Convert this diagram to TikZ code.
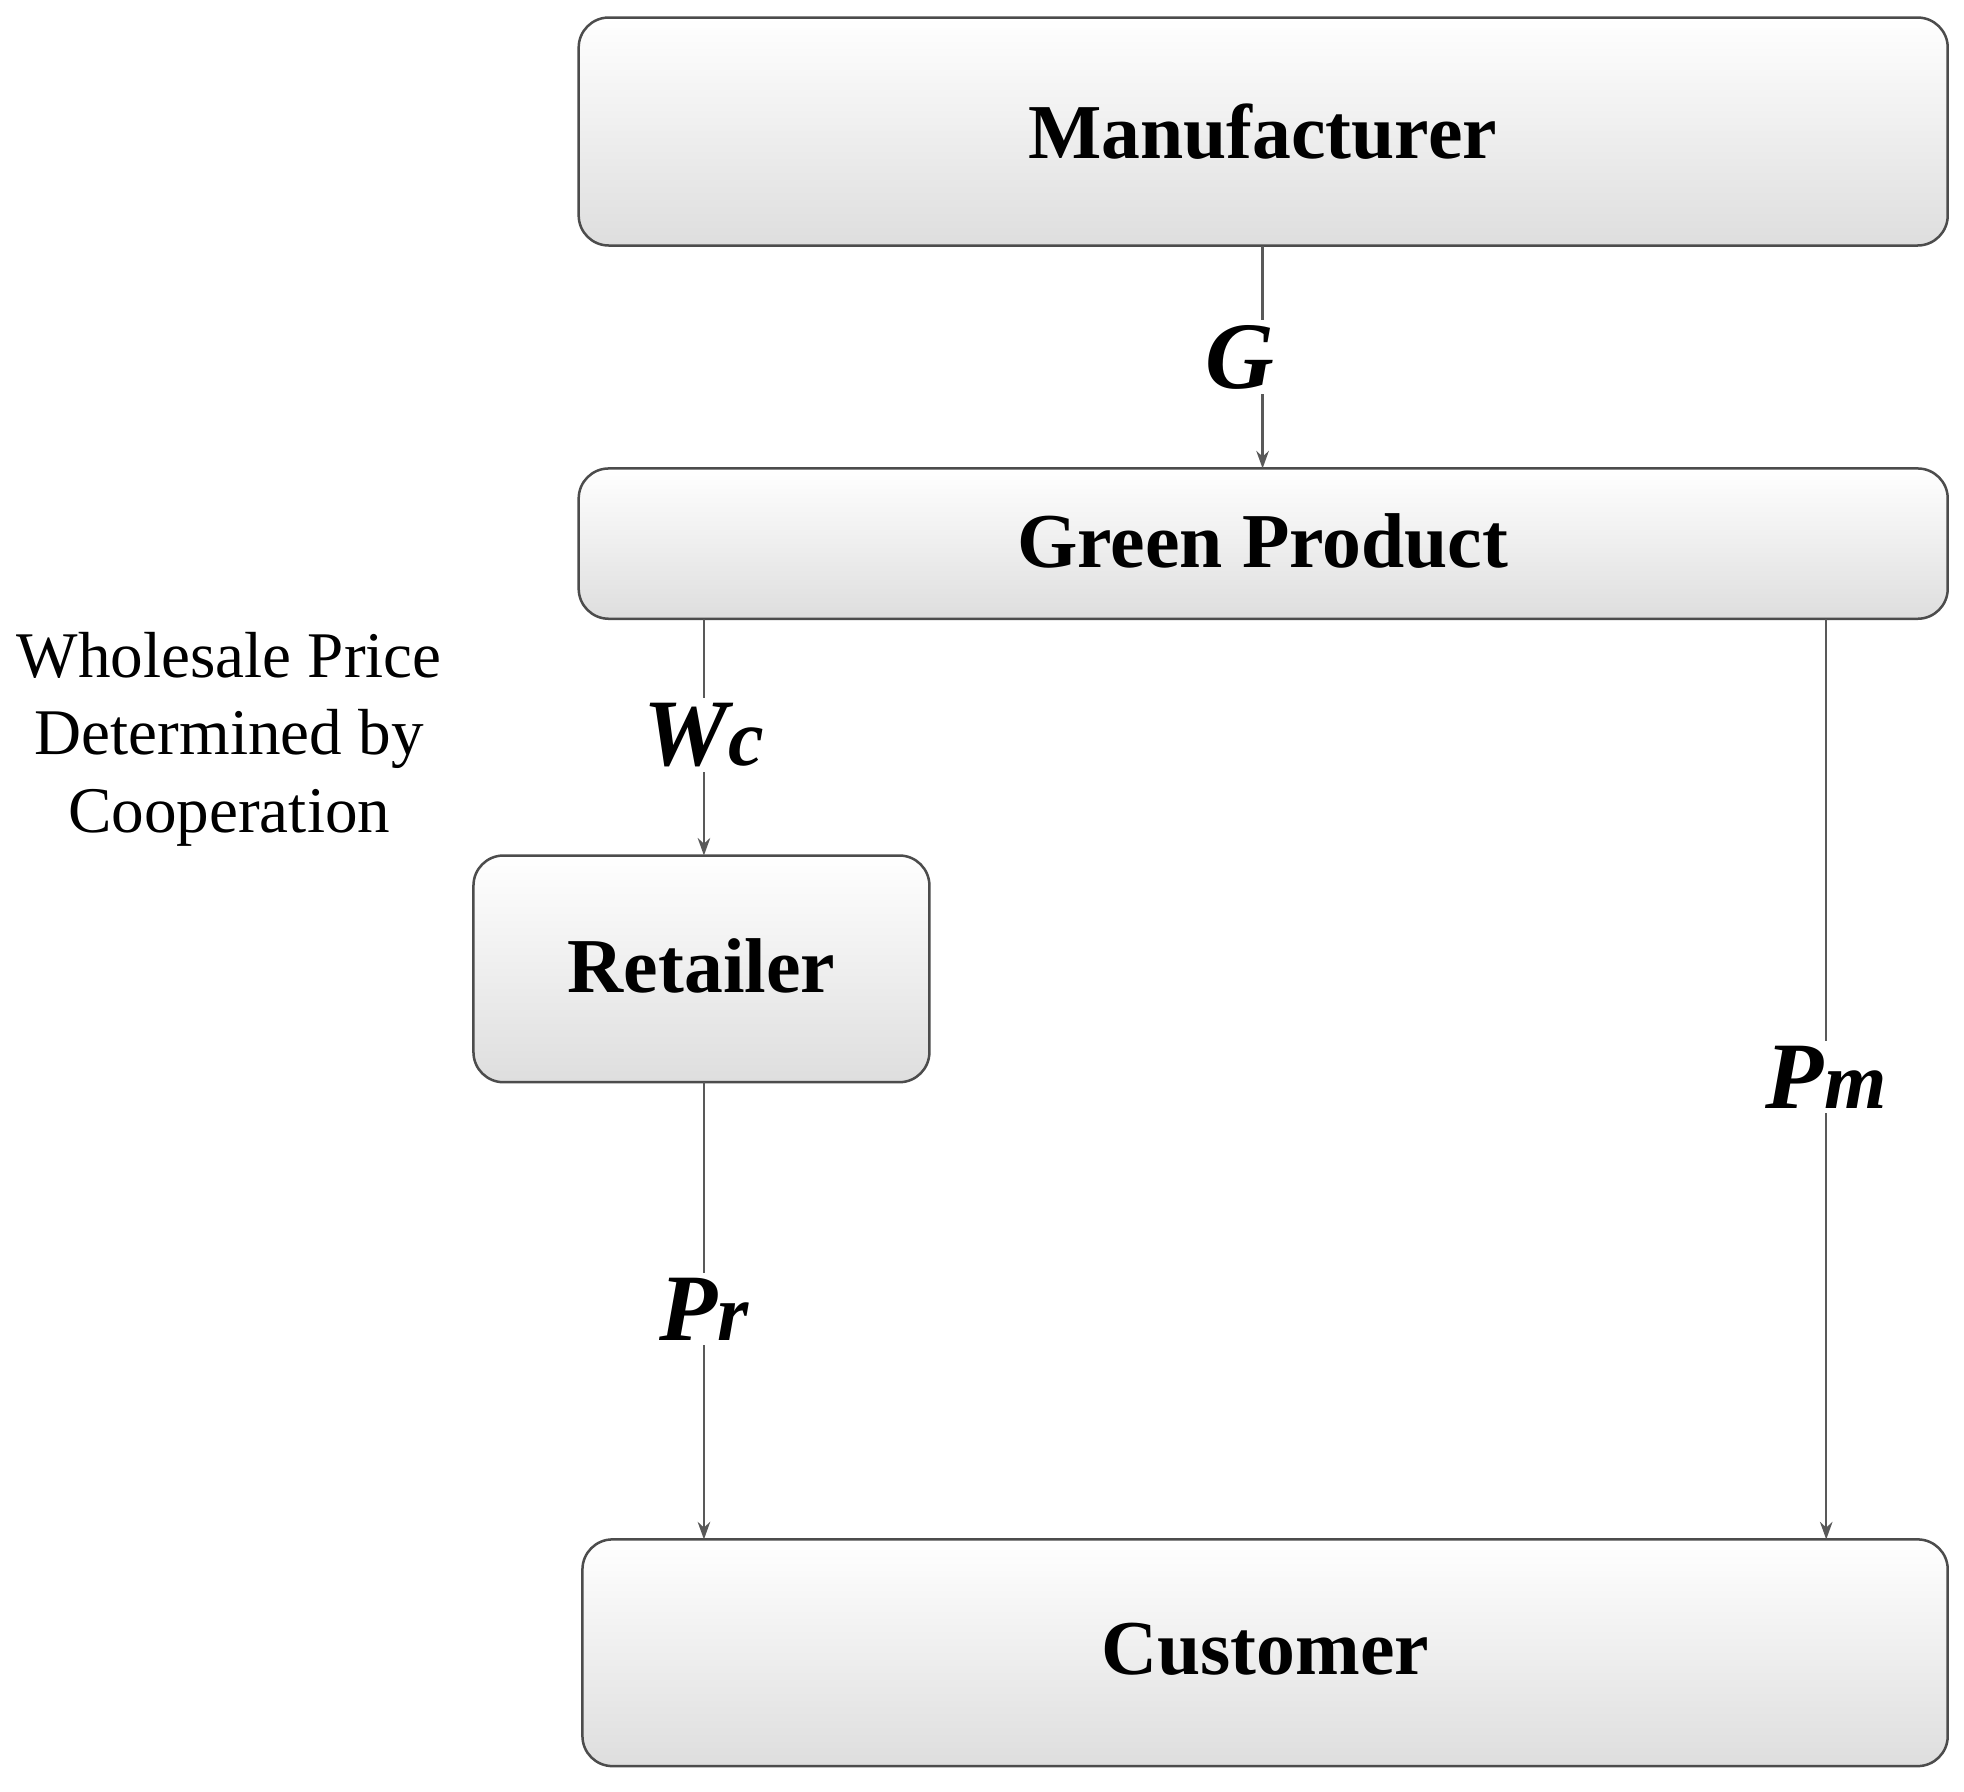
\documentclass[tikz,border=0pt]{standalone}
\usepackage{fontspec}
\setmainfont{Liberation Serif}
\usetikzlibrary{arrows.meta}
\begin{document}
\begin{tikzpicture}[x=0.5pt,y=-0.5pt,
 box/.style={draw=black!70,line width=1pt,rounded corners=12pt,top color=white,bottom color=black!13},
 lab/.style={fill=white,inner sep=2pt,font=\fontsize{38}{42}\selectfont\bfseries\itshape},
 ttl/.style={font=\fontsize{31}{36}\selectfont\bfseries},
 arr/.style={draw=black!65,line width=0.9pt,-{Stealth[length=7pt,width=5pt]}}]
\useasboundingbox (0,0) rectangle (1568,1430);
\draw[box] (462,14) rectangle (1555,196);
\node[ttl] (man) at (1008,105) {Manufacturer};
\draw[box] (462,374) rectangle (1555,494);
\node[ttl] (gp) at (1008,432) {Green Product};
\draw[box] (378,683) rectangle (742,864);
\node[ttl] (ret) at (560,771) {Retailer};
\draw[box] (465,1229) rectangle (1555,1410);
\node[ttl] (cus) at (1010,1317) {Customer};
\coordinate (a1) at (1008,196); \coordinate (a2) at (1008,374);
\coordinate (b1) at (562,494); \coordinate (b2) at (562,683);
\coordinate (c1) at (562,864); \coordinate (c2) at (562,1229);
\coordinate (d1) at (1458,494); \coordinate (d2) at (1458,1229);
\draw[arr] (a1) -- (a2);
\draw[arr] (b1) -- (b2);
\draw[arr] (c1) -- (c2);
\draw[arr] (d1) -- (d2);
\node[lab] (g) at (990,285) {G};
\node[lab] (wc) at (562,587) {W\fontsize{32}{36}\selectfont c};
\node[lab] (pr) at (562,1045) {P\fontsize{32}{36}\selectfont r};
\node[lab] (pm) at (1458,860) {P\fontsize{32}{36}\selectfont m};
\node[align=center,font=\fontsize{26}{31}\selectfont] (txt) at (183,590) {Wholesale Price\\Determined by\\Cooperation};
\end{tikzpicture}
\end{document}
